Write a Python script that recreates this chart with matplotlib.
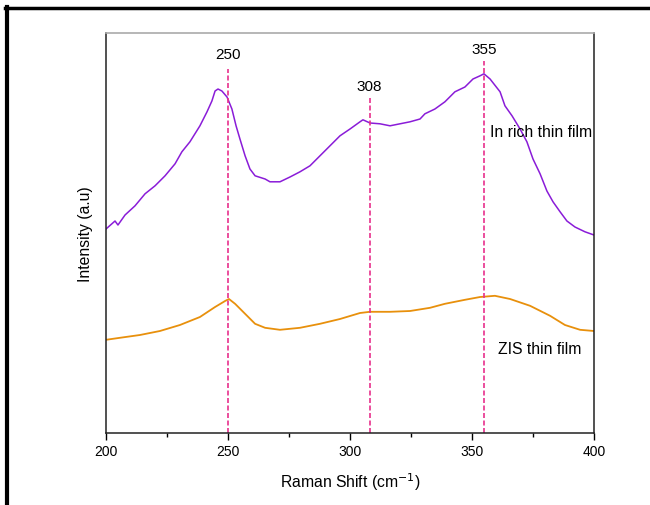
import matplotlib
matplotlib.use("Agg")
import matplotlib.pyplot as plt
from matplotlib.lines import Line2D
from matplotlib.ticker import MultipleLocator

plt.rcParams['font.family'] = ['Liberation Sans', 'DejaVu Sans']

# In-rich thin film (purple)
in_rich_x = [200.0, 203.7, 204.9, 207.8, 211.9, 216.0, 220.1, 224.2, 228.3, 231.1,
             234.4, 238.5, 241.4, 243.4, 244.7, 245.9, 247.5, 249.6, 251.6, 253.3,
             254.9, 257.0, 259.0, 261.1, 265.2, 267.2, 271.3, 275.4, 279.5, 283.6,
             287.7, 291.8, 295.9, 300.0, 304.1, 305.3, 308.2, 312.3, 316.4, 320.5,
             324.6, 328.7, 330.7, 334.8, 338.9, 343.0, 347.1, 350.4, 353.3, 354.9,
             357.4, 361.5, 363.5, 366.4, 369.7, 372.5, 375.0, 377.9, 380.7, 383.2,
             386.1, 388.9, 392.2, 396.3, 400.0]
in_rich_y = [0.510, 0.530, 0.520, 0.545, 0.568, 0.598, 0.618, 0.643, 0.673, 0.703,
             0.728, 0.768, 0.803, 0.830, 0.855, 0.860, 0.855, 0.840, 0.810, 0.768,
             0.735, 0.693, 0.660, 0.643, 0.635, 0.628, 0.628, 0.640, 0.653, 0.668,
             0.693, 0.718, 0.743, 0.760, 0.778, 0.783, 0.775, 0.773, 0.768, 0.773,
             0.778, 0.785, 0.798, 0.810, 0.828, 0.853, 0.865, 0.885, 0.893, 0.898,
             0.885, 0.853, 0.818, 0.793, 0.760, 0.728, 0.685, 0.648, 0.605, 0.578,
             0.553, 0.530, 0.515, 0.503, 0.495]

# ZIS thin film (orange)
zis_x = [200.0, 205.7, 213.9, 222.1, 230.3, 238.5, 244.7, 248.8, 250.4, 252.9,
         257.0, 261.1, 265.2, 271.3, 279.5, 287.7, 295.9, 304.1, 308.2, 316.4,
         324.6, 332.8, 338.9, 347.1, 353.3, 359.4, 365.6, 373.8, 382.0, 388.1,
         394.3, 400.0]
zis_y = [0.233, 0.238, 0.245, 0.255, 0.270, 0.290, 0.315, 0.330, 0.335, 0.323,
         0.298, 0.273, 0.263, 0.258, 0.263, 0.273, 0.285, 0.300, 0.303, 0.303,
         0.305, 0.313, 0.323, 0.333, 0.340, 0.343, 0.335, 0.318, 0.293, 0.270,
         0.258, 0.255]

peaks = [250, 308, 355]
peak_labels = ["250", "308", "355"]
peak_line_tops = [0.91, 0.8375, 0.93]
peak_label_y = [0.9475, 0.8675, 0.96]

fig = plt.figure(figsize=(6.5, 5.06), dpi=100)
ax = fig.add_axes([106/650, 1-434/506, 488/650, 400/506])

ax.plot(in_rich_x, in_rich_y, color='#8a1cd8', lw=1.1)
ax.plot(zis_x, zis_y, color='#e8900c', lw=1.3)

for px, top, lab, ly in zip(peaks, peak_line_tops, peak_labels, peak_label_y):
    ax.plot([px, px], [0, top], color='#e8308c', lw=1.2, ls=(0, (3, 1.5)))
    ax.text(px, ly, lab, ha='center', va='center', fontsize=11)

ax.text(357.4, 0.7525, "In rich thin film", ha='left', va='center', fontsize=11.3)
ax.text(360.7, 0.2125, "ZIS thin film", ha='left', va='center', fontsize=11.3)

ax.set_xlim(200, 400)
ax.set_ylim(0, 1)
ax.set_yticks([])
ax.xaxis.set_major_locator(MultipleLocator(50))
ax.xaxis.set_minor_locator(MultipleLocator(25))
ax.tick_params(axis='x', which='major', direction='out', length=5, width=1, labelsize=10, pad=3)
ax.tick_params(axis='x', which='minor', direction='out', length=3, width=1)
for s in ['left', 'right', 'bottom']:
    ax.spines[s].set_linewidth(1.1)
    ax.spines[s].set_color('#222222')
ax.spines['top'].set_color('#aaaaaa')
ax.spines['top'].set_linewidth(1.2)

ax.set_xlabel("Raman Shift (cm$^{-1}$)", fontsize=11.3, labelpad=9)
ax.set_ylabel("Intensity (a.u)", fontsize=11.3, labelpad=9)

# figure frame (left and top black lines)
fig.add_artist(Line2D([6.5/650, 6.5/650], [0, 1-8/506], color='black', lw=3, transform=fig.transFigure))
fig.add_artist(Line2D([5/650, 1], [1-9/506, 1-9/506], color='black', lw=2.5, transform=fig.transFigure))

fig.savefig("out.png", dpi=100)
